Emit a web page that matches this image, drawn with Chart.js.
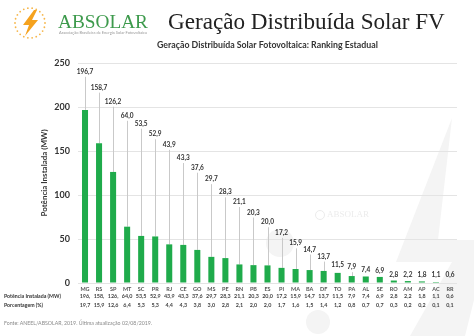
<!DOCTYPE html>
<html><head><meta charset="utf-8">
<script src="https://cdn.jsdelivr.net/npm/chart.js@4/dist/chart.umd.min.js"></script>
<style>html,body{margin:0;padding:0;background:#fff;}canvas{display:block;}</style>
</head><body>
<canvas id="c" width="474" height="336"></canvas>
<script>
// ---- data ----
const states = ['MG','RS','SP','MT','SC','PR','RJ','CE','GO','MS','PE','RN','PB','ES','PI','MA','BA','DF','TO','PA','AL','SE','RO','AM','AP','AC','RR'];
const powerMW = [196.7,158.7,126.2,64.0,53.5,52.9,43.9,43.3,37.6,29.7,28.3,21.1,20.3,20.0,17.2,15.9,14.7,13.7,11.5,7.9,7.4,6.9,2.8,2.2,1.8,1.1,0.6];
const powerTable = ['196,','158,','126,','64,0','53,5','52,9','43,9','43,3','37,6','29,7','28,3','21,1','20,3','20,0','17,2','15,9','14,7','13,7','11,5','7,9','7,4','6,9','2,8','2,2','1,8','1,1','0,6'];
const sharePct = ['19,7','15,9','12,6','6,4','5,3','5,3','4,4','4,3','3,8','3,0','2,8','2,1','2,0','2,0','1,7','1,6','1,5','1,4','1,2','0,8','0,7','0,7','0,3','0,2','0,2','0,1','0,1'];
const yTicks = [0,50,100,150,200,250];
const rowLabels = ['Potência Instalada (MW)','Porcentagem (%)'];

function fitFont(ctx, text, width, tmpl) {
  ctx.font = tmpl.replace('SIZE', '100px');
  const w = ctx.measureText(text).width;
  const size = 100 * width / w;
  ctx.font = tmpl.replace('SIZE', size.toFixed(2) + 'px');
  return size;
}

const decor = {
  id: 'decor',
  beforeDraw(chart) {
    const ctx = chart.ctx;
    ctx.save();
    ctx.fillStyle = '#fff';
    ctx.fillRect(0, 0, chart.width, chart.height);
    // faint watermark bolt
    ctx.fillStyle = '#f4f4f4';
    ctx.beginPath();
    ctx.moveTo(452, 118);
    ctx.lineTo(396, 262);
    ctx.lineTo(452, 262);
    ctx.lineTo(410, 336);
    ctx.lineTo(465, 336);
    ctx.lineTo(474, 300);
    ctx.lineTo(474, 240);
    ctx.lineTo(438, 240);
    ctx.closePath();
    ctx.fill();
    ctx.beginPath();
    ctx.arc(280, 243, 14, 0, Math.PI * 2);
    ctx.fill();
    ctx.beginPath();
    ctx.arc(318, 322, 12, 0, Math.PI * 2);
    ctx.fill();
    // faint watermark text
    ctx.fillStyle = '#ececec';
    ctx.font = '9px "Liberation Serif"';
    ctx.textBaseline = 'middle';
    ctx.fillText('ABSOLAR', 327, 215);
    ctx.beginPath();
    ctx.arc(320, 215, 4.5, 0, Math.PI * 2);
    ctx.strokeStyle = '#ececec';
    ctx.stroke();

    // logo
    const cx = 30, cy = 23;
    ctx.fillStyle = '#f6b64a';
    for (let k = 0; k < 22; k++) {
      const a = k / 22 * Math.PI * 2;
      ctx.beginPath();
      ctx.arc(cx + 15 * Math.cos(a), cy + 15 * Math.sin(a), 0.9, 0, Math.PI * 2);
      ctx.fill();
    }
    ctx.fillStyle = '#f5a21e';
    ctx.beginPath();
    ctx.moveTo(cx + 4, cy - 13);
    ctx.lineTo(cx - 7, cy + 2);
    ctx.lineTo(cx - 1, cy + 2);
    ctx.lineTo(cx - 5, cy + 13);
    ctx.lineTo(cx + 8, cy - 3);
    ctx.lineTo(cx + 2, cy - 3);
    ctx.lineTo(cx + 7, cy - 13);
    ctx.closePath();
    ctx.fill();
    // ABSOLAR wordmark
    ctx.fillStyle = '#3d9a4c';
    ctx.textBaseline = 'alphabetic';
    ctx.textAlign = 'left';
    fitFont(ctx, 'ABSOLAR', 90, 'SIZE "Liberation Serif"');
    ctx.fillText('ABSOLAR', 58, 28);
    ctx.fillStyle = '#999';
    fitFont(ctx, 'Associação Brasileira de Energia Solar Fotovoltaica', 88, 'SIZE Lato');
    ctx.fillText('Associação Brasileira de Energia Solar Fotovoltaica', 59, 34);
    // main title
    ctx.fillStyle = '#222';
    fitFont(ctx, 'Geração Distribuída Solar FV', 277, 'SIZE "Liberation Serif"');
    ctx.fillText('Geração Distribuída Solar FV', 168, 29);
    // subtitle
    ctx.fillStyle = '#333';
    ctx.textBaseline = 'middle';
    fitFont(ctx, 'Geração Distribuída Solar Fotovoltaica: Ranking Estadual', 221, 'bold SIZE Lato');
    ctx.fillText('Geração Distribuída Solar Fotovoltaica: Ranking Estadual', 157, 45);
    ctx.restore();
  },
  beforeDatasetsDraw(chart, args, opts) {
    const ctx = chart.ctx, ys = chart.scales.y;
    const meta = chart.getDatasetMeta(0);
    ctx.save();
    ctx.strokeStyle = '#c9c9c9';
    ctx.lineWidth = 1;
    meta.data.forEach((el, i) => {
      const ly = ys.getPixelForValue(opts.labelLevels[i]) + 5;
      if (el.y - ly > 3) {
        ctx.beginPath();
        ctx.moveTo(Math.round(el.x) + 0.5, ly);
        ctx.lineTo(Math.round(el.x) + 0.5, el.y);
        ctx.stroke();
      }
    });
    ctx.restore();
  },
  afterDatasetsDraw(chart, args, opts) {
    const ctx = chart.ctx, ys = chart.scales.y, xs = chart.scales.x;
    const meta = chart.getDatasetMeta(0);
    ctx.save();
    ctx.fillStyle = '#333';
    ctx.font = 'bold 6.5px Lato';
    ctx.textAlign = 'center';
    ctx.textBaseline = 'middle';
    meta.data.forEach((el, i) => {
      const ly = ys.getPixelForValue(opts.labelLevels[i]);
      ctx.fillText(powerMW[i].toFixed(1).replace('.', ','), el.x, ly);
    });
    // table rows
    ctx.font = 'bold 5.4px Lato';
    ctx.fillStyle = '#444';
    states.forEach((s, i) => {
      const x = xs.getPixelForValue(i);
      ctx.fillText(powerTable[i], x, 296);
      ctx.fillText(sharePct[i], x, 305.5);
    });
    ctx.textAlign = 'left';
    ctx.fillStyle = '#333';
    fitFont(ctx, rowLabels[0], 57, 'bold SIZE Lato');
    ctx.fillText(rowLabels[0], 4, 296);
    ctx.fillText(rowLabels[1], 4, 305.5);
    ctx.fillStyle = '#8a8a8a';
    const foot = 'Fonte: ANEEL/ABSOLAR, 2019. Última atualização 02/08/2019.';
    fitFont(ctx, foot, 148, 'SIZE Lato');
    ctx.fillText(foot, 4, 323);
    ctx.restore();
  }
};

new Chart(document.getElementById('c'), {
  type: 'bar',
  data: {
    labels: states,
    datasets: [{
      data: powerMW,
      backgroundColor: '#1fab4b',
      barPercentage: 0.43,
      categoryPercentage: 1.0
    }]
  },
  options: {
    responsive: false,
    animation: false,
    layout: { padding: { top: 63, right: 17, left: 0, bottom: 0 } },
    plugins: {
      legend: { display: false },
      tooltip: { enabled: false },
      decor: {
        labelLevels: [240,222,206,190,181,169,157,142,131,118,103,92,80,69,57,45,38,30,20,18,15,14,9,9,9,9,9]
      }
    },
    scales: {
      x: {
        grid: { display: false, drawTicks: false },
        border: { display: false },
        ticks: { font: { family: 'Lato', size: 5.5, weight: 'bold' }, color: '#555', padding: 3, maxRotation: 0, autoSkip: false },
        afterFit: s => { s.height = 53; }
      },
      y: {
        min: 0, max: 250,
        afterBuildTicks: s => { s.ticks = yTicks.map(v => ({ value: v })); },
        ticks: { font: { family: 'Lato', size: 9, weight: 'bold' }, color: '#333', padding: 8 },
        grid: { color: '#e4e4e4', drawTicks: false },
        border: { display: false },
        title: { display: true, text: 'Potência Instalada (MW)', font: { family: 'Lato', size: 8, weight: 'bold' }, color: '#333', padding: { top: 40, bottom: 0 } },
        afterFit: s => { s.width = 78; }
      }
    }
  },
  plugins: [decor]
});
</script>
</body></html>
